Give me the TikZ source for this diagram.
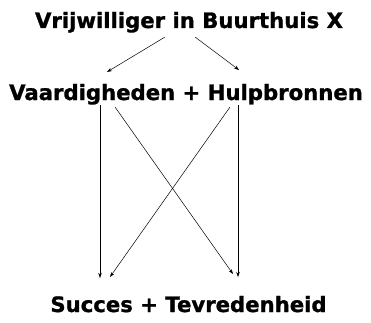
\documentclass[tikz,border=0pt]{standalone}
\usepackage{fontspec}
\setmainfont{DejaVu Sans}
\newfontfamily\heavyfont{DejaVu Sans Bold}[RawFeature={embolden=1.2}]
\usetikzlibrary{arrows.meta}
\begin{document}
\begin{tikzpicture}[x=1pt,y=1pt,
  lbl/.style={font=\heavyfont\fontsize{21.2}{24}\selectfont, inner sep=0pt, anchor=base},
  arr/.style={-{Stealth[length=5pt,width=3.5pt]}, line width=0.5pt}]
\useasboundingbox (0,0) rectangle (371,322);
\node[lbl] (top) at (189,294) {Vrijwilliger in Buurthuis X};
\node[lbl] (mid) at (186,222) {Vaardigheden + Hulpbronnen};
\node[lbl] (bot) at (188.5,10) {Succes + Tevredenheid};
\coordinate (t1) at (165,285);
\coordinate (t2) at (195,285);
\coordinate (m1) at (107,250);
\coordinate (m2) at (239,252);
\coordinate (a1) at (100,217);
\coordinate (a2) at (115,215);
\coordinate (a3) at (230,215);
\coordinate (a4) at (238,217);
\coordinate (b1) at (100,44);
\coordinate (b2) at (110,45);
\coordinate (b3) at (233,48);
\coordinate (b4) at (238,45);
\draw[arr] (t1) -- (m1);
\draw[arr] (t2) -- (m2);
\draw[arr] (a1) -- (b1);
\draw[arr] (a2) -- (b3);
\draw[arr] (a3) -- (b2);
\draw[arr] (a4) -- (b4);
\end{tikzpicture}
\end{document}
